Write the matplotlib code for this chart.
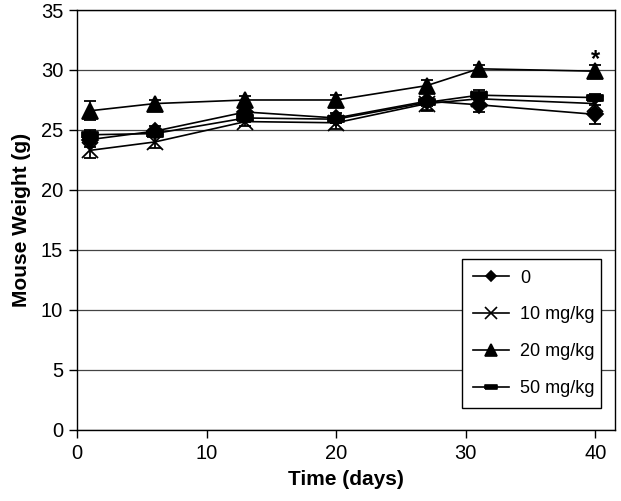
import matplotlib
matplotlib.use("Agg")
import matplotlib.pyplot as plt
from matplotlib.lines import Line2D

plt.rcParams['font.family'] = ['Liberation Sans', 'DejaVu Sans']

days = [1, 6, 13, 20, 27, 31, 40]

w0 = [24.2, 24.9, 26.5, 26.0, 27.4, 27.1, 26.3]
e0 = [0.6, 0.4, 0.5, 0.4, 0.8, 0.6, 0.8]

w10 = [23.3, 24.0, 25.7, 25.6, 27.2, 27.6, 27.2]
e10 = [0.6, 0.5, 0.4, 0.5, 0.5, 0.5, 0.5]

w20 = [26.6, 27.2, 27.5, 27.5, 28.7, 30.1, 29.9]
e20 = [0.8, 0.3, 0.3, 0.4, 0.5, 0.3, 0.5]

w50 = [24.6, 24.7, 26.0, 25.9, 27.3, 27.9, 27.7]
e50 = [0.4, 0.3, 0.3, 0.3, 0.3, 0.4, 0.3]

labels = ["0", "10 mg/kg", "20 mg/kg", "50 mg/kg"]

# flat bar marker for the 50 mg/kg group
bar_marker = [(-1, -0.4), (1, -0.4), (1, 0.4), (-1, 0.4), (-1, -0.4)]

fig = plt.figure(figsize=(6.21, 5.01), dpi=100)
ax = fig.add_axes([0.124, 0.142, 0.866, 0.838])

series = [
    (w0, e0, "D", 8),
    (w10, e10, "x", 11),
    (w20, e20, "^", 11),
    (w50, e50, bar_marker, 11),
]

handles = []
for (vals, errs, mk, ms), lab in zip(series, labels):
    ax.errorbar(days, vals, yerr=errs, color="black", linewidth=1.2,
                marker=mk, markersize=ms, markeredgewidth=1.3,
                capsize=4, capthick=2, elinewidth=1.3)
    handles.append(Line2D([], [], color="black", linewidth=1.2, marker=mk,
                          markersize=ms - 3, markeredgewidth=1.2, label=lab))

ax.text(40, 30.3, "*", ha="center", va="baseline", fontsize=17,
        fontweight="bold")

ax.set_xlim(0, 41.5)
ax.set_ylim(0, 35)
ax.set_xticks([0, 10, 20, 30, 40])
ax.set_yticks(range(0, 36, 5))
ax.yaxis.grid(True, color="#444444", linewidth=0.9)
ax.set_axisbelow(True)
ax.tick_params(direction="out", length=6, width=1, labelsize=14.5, pad=4)
for s in ax.spines.values():
    s.set_linewidth(1.0)

ax.set_xlabel("Time (days)", fontsize=15, fontweight="bold", labelpad=5)
ax.set_ylabel("Mouse Weight (g)", fontsize=15, fontweight="bold", labelpad=7)

leg = ax.legend(handles=handles, loc="lower left",
                bbox_to_anchor=(0.716, 0.052, 0.258, 0.357),
                mode="expand", fontsize=13, frameon=True, fancybox=False,
                edgecolor="black", handlelength=2.0, handletextpad=0.6,
                labelspacing=1.1, borderpad=0.6, borderaxespad=0)
leg.get_frame().set_linewidth(1.0)
leg.get_frame().set_alpha(1)

fig.savefig("out.png", dpi=100)
